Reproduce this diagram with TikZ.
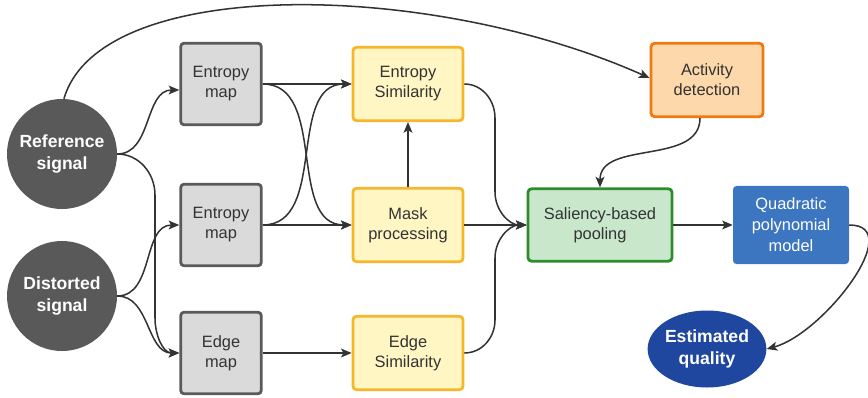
\documentclass[tikz,border=0pt]{standalone}
\usepackage{fontspec}
\setmainfont{Liberation Sans}
\usetikzlibrary{arrows.meta,calc,shapes.geometric}

\definecolor{darkdisc}{HTML}{595959}
\definecolor{txt}{HTML}{333333}
\definecolor{wire}{HTML}{333333}
\definecolor{grayfill}{HTML}{DADADA}
\definecolor{grayedge}{HTML}{5A5A5A}
\definecolor{yelfill}{HTML}{FFF6C4}
\definecolor{yeledge}{HTML}{F6B72C}
\definecolor{orfill}{HTML}{FDD8AA}
\definecolor{oredge}{HTML}{F07A12}
\definecolor{grfill}{HTML}{C9E7CB}
\definecolor{gredge}{HTML}{2E8B2E}
\definecolor{bluefill}{HTML}{3C76C0}
\definecolor{navyfill}{HTML}{1F47A0}

\begin{document}
\begin{tikzpicture}[x=0.03cm, y=0.03cm,
  base/.style={align=center, inner sep=0pt, text=txt,
    font=\fontsize{14}{17}\selectfont, rounded corners=3pt},
  graybox/.style={base, draw=grayedge, fill=grayfill, line width=2.4pt,
    minimum width=2.42cm, minimum height=2.45cm},
  yelbox/.style={base, draw=yeledge, fill=yelfill, line width=2.4pt,
    minimum width=3.3cm, minimum height=2.2cm},
  disc/.style={circle, fill=darkdisc, text=white, align=center, inner sep=0pt,
    minimum size=3.3cm, font=\fontsize{15}{19}\selectfont\bfseries},
  conn/.style={draw=wire, line width=1.3pt,
    -{Stealth[length=9pt, width=7.5pt, inset=2pt]}}
]
\useasboundingbox (0,0) rectangle (868,-398);

% sources
\node[disc] (ref) at (62,-154) {Reference\\signal};
\node[disc] (dis) at (62,-296) {Distorted\\signal};

% feature maps
\node[graybox] (em1) at (221,-84)  {Entropy\\map};
\node[graybox] (em2) at (221,-225) {Entropy\\map};
\node[graybox] (edm) at (221,-353) {Edge\\map};

% similarity and mask stages
\node[yelbox] (es)  at (408,-84)  {Entropy\\Similarity};
\node[yelbox] (mp)  at (408,-225) {Mask\\processing};
\node[yelbox] (eds) at (408,-353) {Edge\\Similarity};

% pooling and model
\node[base, draw=oredge, fill=orfill, line width=2.4pt,
  minimum width=3.36cm, minimum height=2.2cm] (act) at (707,-80) {Activity\\detection};
\node[base, draw=gredge, fill=grfill, line width=2.4pt,
  minimum width=4.32cm, minimum height=2.17cm] (sal) at (600,-225) {Saliency-based\\pooling};
\node[base, fill=bluefill, text=white, minimum width=3.48cm, minimum height=2.34cm,
  font=\fontsize{14}{18}\selectfont] (quad) at (791,-225) {Quadratic\\polynomial\\model};
\node[ellipse, fill=navyfill, text=white, align=center, inner sep=0pt,
  minimum width=3.48cm, minimum height=2.31cm,
  font=\fontsize{15}{19}\selectfont\bfseries] (est) at (707,-349) {Estimated\\quality};

% reference signal to activity detection, over the top
\draw[conn] (ref.88) .. controls (100,25) and (430,20) .. ($(act.west)+(0,2)$);

% signals to maps
\draw[conn] (ref.east) to[out=0, in=180] ($(em1.west)+(0,-6)$);
\draw[conn] (ref.east) to[out=0, in=90] (155,-195) -- (155,-318)
  to[out=-90, in=180] (edm.west);
\draw[conn] (dis.east) to[out=0, in=180] (em2.west);
\draw[conn] (dis.east) to[out=0, in=180] (edm.west);

% maps to similarity and mask stages
\draw[conn] (em1.east) -- (es.west);
\draw[conn] (em1.east) to[out=0, in=180] (mp.west);
\draw[conn] (em2.east) -- (mp.west);
\draw[conn] (em2.east) to[out=0, in=180] (es.west);
\draw[conn] (edm.east) -- (eds.west);
\draw[conn] (mp.north) -- (es.south);

% into pooling
\draw[conn] (es.east) to[out=0, in=90] (495,-118) -- (495,-192)
  to[out=-90, in=180] (sal.west);
\draw[conn] (mp.east) -- (sal.west);
\draw[conn] (eds.east) to[out=0, in=-90] (495,-320) -- (495,-258)
  to[out=90, in=180] (sal.west);
\draw[conn] ($(act.south)+(-7,0)$) to[out=-90, in=90] (sal.north);

% model and output
\draw[conn] (sal.east) -- (quad.west);
\draw[conn] (quad.east) to[out=0, in=15] (est.east);
\end{tikzpicture}
\end{document}
